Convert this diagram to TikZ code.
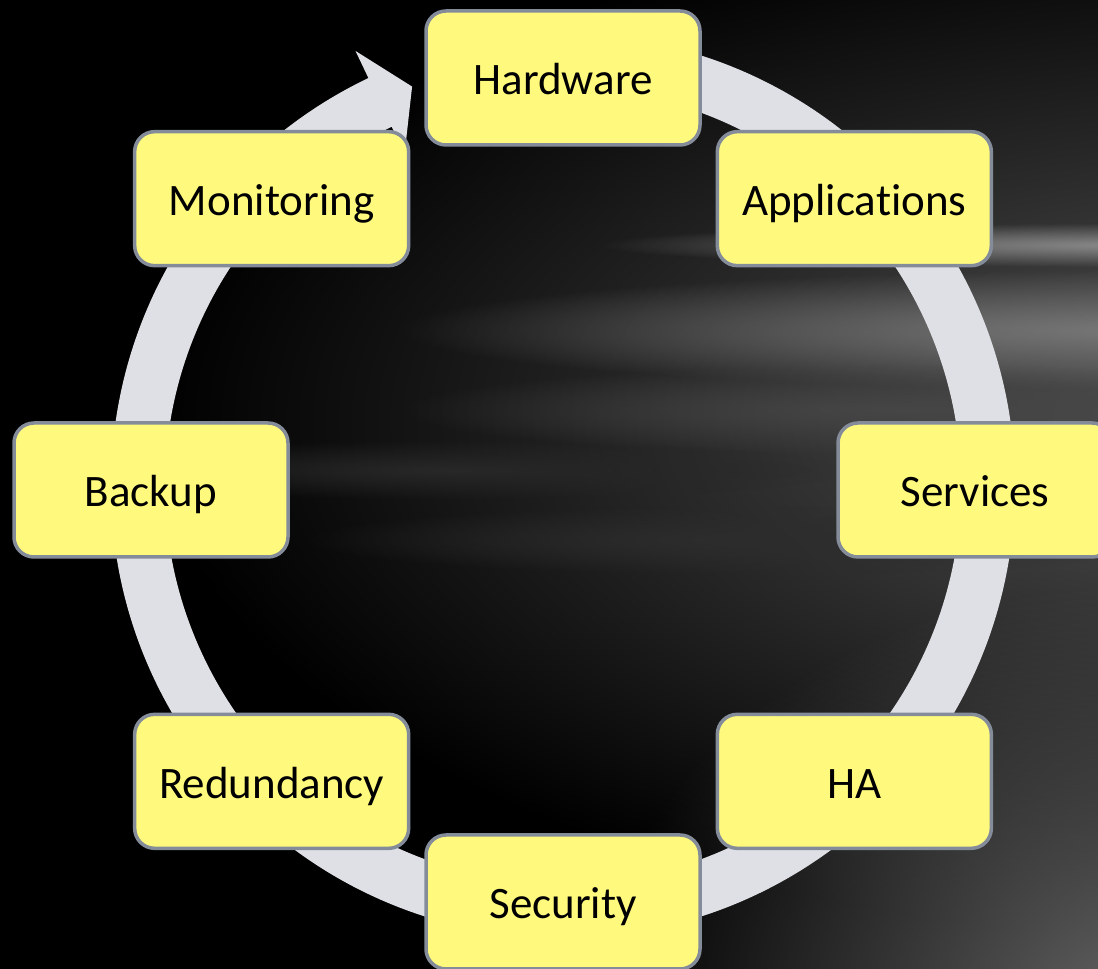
\documentclass[tikz,border=0pt]{standalone}
\usepackage{fontspec}
\usetikzlibrary{fadings}
\setmainfont{Carlito}[Ligatures={NoCommon}, RawFeature={-clig}]
\definecolor{boxfill}{RGB}{255,250,125}
\definecolor{boxline}{RGB}{133,140,153}
\definecolor{ringcol}{RGB}{223,224,229}
\tikzfading[name=softblob, inner color=transparent!0, outer color=transparent!100]
% soft glow: centre x, centre y (pixels from top), x radius, y radius, grey level (0-255)
\newcommand{\bgglow}[5]{%
  \definecolor{glowcol}{RGB}{#5,#5,#5}%
  \fill[glowcol, path fading=softblob] (#1,{969-#2}) ellipse[x radius=#3, y radius=#4];}
\begin{document}
\begin{tikzpicture}[x=1pt,y=1pt,
  stepbox/.style={draw=boxline, line width=3.5pt, fill=boxfill,
    rounded corners=20pt, minimum width=274pt, minimum height=134pt,
    inner sep=0pt, text height=34pt, text depth=0pt,
    font=\fontsize{45}{54}\selectfont},
  ringshape/.style={fill=ringcol}]
\useasboundingbox (0,0) rectangle (1098,969);
\clip (0,0) rectangle (1098,969);
% background
\fill[black] (0,0) rectangle (1098,969);
\bgglow{1250}{420}{1100}{520}{85}
\bgglow{1150}{1000}{550}{420}{100}
\bgglow{1150}{245}{550}{22}{140}
\bgglow{1150}{330}{750}{60}{120}
\bgglow{900}{410}{500}{45}{70}
\bgglow{450}{470}{400}{30}{40}
\bgglow{750}{540}{450}{35}{45}
% cycle ring with arrowhead
\begin{scope}[shift={(563,483)}]
  \fill[ringshape] (85:452) arc[start angle=85, end angle=-244.5, radius=452]
    -- (-244.5:482) -- (-249.3:427) -- (-244.5:368) -- (-244.5:398)
    arc[start angle=-244.5, end angle=85, radius=398] -- cycle;
\end{scope}
% nodes
\begin{scope}[shift={(563,479)}]
  \node[stepbox] (hw)  at (90:412)   {Hardware};
  \node[stepbox] (app) at (45:412)   {Applications};
  \node[stepbox] (srv) at (0:412)    {Services};
  \node[stepbox] (ha)  at (-45:412)  {HA};
  \node[stepbox] (sec) at (-90:412)  {Security};
  \node[stepbox] (red) at (-135:412) {Redundancy};
  \node[stepbox] (bak) at (180:412)  {Backup};
  \node[stepbox] (mon) at (135:412)  {Monitoring};
\end{scope}
\end{tikzpicture}
\end{document}
